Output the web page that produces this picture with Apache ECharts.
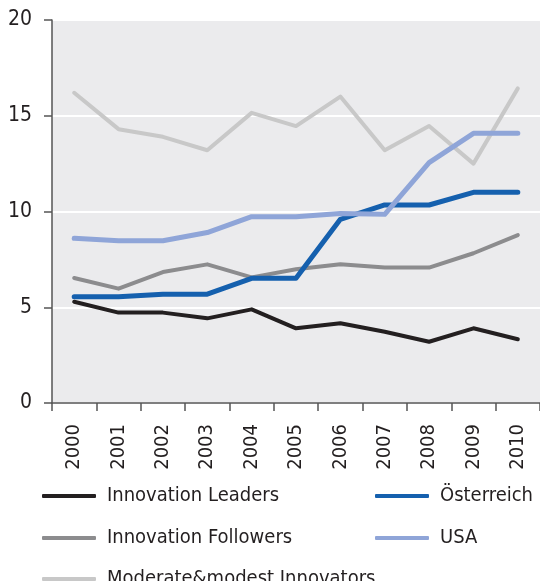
<!DOCTYPE html>
<html><head><meta charset="utf-8">
<script src="https://cdn.jsdelivr.net/npm/echarts@6/dist/echarts.min.js"></script>
<style>html,body{margin:0;padding:0;background:#fff}#c{width:540px;height:581px}</style>
</head><body><div id="c"></div>
<script>
const years = ['2000','2001','2002','2003','2004','2005','2006','2007','2008','2009','2010'];
const leaders   = [5.29, 4.72, 4.72, 4.42, 4.89, 3.90, 4.16, 3.72, 3.20, 3.90, 3.33];
const followers = [6.53, 5.97, 6.84, 7.24, 6.56, 6.98, 7.24, 7.07, 7.07, 7.82, 8.77];
const moderate  = [16.2, 14.3, 13.9, 13.2, 15.15, 14.46, 16.0, 13.2, 14.46, 12.5, 16.43];
const austria   = [5.55, 5.55, 5.68, 5.68, 6.51, 6.51, 9.59, 10.34, 10.34, 11.0, 11.0];
const usa       = [8.60, 8.47, 8.47, 8.90, 9.73, 9.73, 9.90, 9.85, 12.55, 14.08, 14.08];
const yTicks = [0, 5, 10, 15, 20];

const FONT = '"Liberation Sans Narrow","DejaVu Sans Condensed","Liberation Sans",sans-serif';
const chart = echarts.init(document.getElementById('c'));
function line(name, data, color, width, z) {
  return {name, type:'line', data, symbol:'none', z,
    lineStyle:{color, width, cap:'round', join:'round'}, itemStyle:{color}};
}
const legendCommon = {
  orient:'vertical', itemWidth:54, itemHeight:4, itemGap:18, icon:'roundRect',
  textStyle:{fontFamily:FONT, fontSize:20, color:'#231f20', lineHeight:24, padding:[0,0,0,6]}
};
chart.setOption({
  animation:false,
  grid:{left:52, right:-1, top:20, bottom:178, show:true, backgroundColor:'#ebebed', borderWidth:0},
  legend:[
    Object.assign({left:37, top:479, data:['Innovation Leaders','Innovation Followers']}, legendCommon),
    Object.assign({left:37, top:562, data:['Moderate&modest Innovators']}, legendCommon),
    Object.assign({left:370, top:479, data:['Österreich','USA']}, legendCommon)
  ],
  xAxis:{type:'category', data:years, boundaryGap:true,
    axisLine:{lineStyle:{color:'#555', width:1.5}},
    axisTick:{show:true, length:8, lineStyle:{color:'#555', width:1.5}},
    axisLabel:{rotate:90, margin:21, fontFamily:FONT, fontSize:20, color:'#231f20'},
    splitLine:{show:false}},
  yAxis:{type:'value', min:yTicks[0], max:yTicks[yTicks.length-1], interval:5,
    axisLine:{show:true, lineStyle:{color:'#555', width:1.5}},
    axisTick:{show:true, length:8, lineStyle:{color:'#555', width:1.5}},
    axisLabel:{margin:20, fontFamily:FONT, fontSize:21, color:'#231f20'},
    splitLine:{show:true, lineStyle:{color:'#ffffff', width:2}}},
  series:[
    line('Innovation Leaders', leaders, '#231f20', 4, 5),
    line('Innovation Followers', followers, '#8c8c8e', 4, 4),
    line('Moderate&modest Innovators', moderate, '#c8c8c8', 4, 3),
    line('Österreich', austria, '#1560ae', 5, 6),
    line('USA', usa, '#8fa5d8', 5, 7)
  ]
});
</script></body></html>
